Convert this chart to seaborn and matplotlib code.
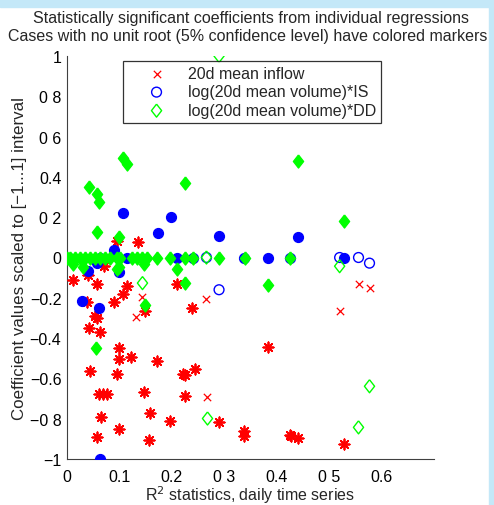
import numpy as np
import pandas as pd
import seaborn as sns
import matplotlib.pyplot as plt
from matplotlib.patches import Rectangle

# ---- data ----
# 20d mean inflow, unit root (thin x)
inflow_x_r2 = [0.144, 0.265, 0.131, 0.267, 0.520, 0.556, 0.577]
inflow_x_val = [-0.196, -0.204, -0.297, -0.692, -0.266, -0.130, -0.150]

# 20d mean inflow, no unit root (asterisk)
inflow_r2 = [0.095, 0.136, 0.012, 0.041, 0.057, 0.071, 0.090, 0.107, 0.115, 0.209,
             0.239, 0.149, 0.038, 0.057, 0.053, 0.042, 0.062, 0.100, 0.100, 0.123,
             0.044, 0.095, 0.061, 0.068, 0.076, 0.064, 0.100, 0.057, 0.147, 0.172,
             0.244, 0.222, 0.226, 0.225, 0.159, 0.196, 0.290, 0.156, 0.383, 0.337,
             0.337, 0.425, 0.428, 0.441, 0.528]
inflow_val = [0.084, 0.076, -0.110, -0.089, -0.130, -0.043, -0.221, -0.183, -0.139, -0.130,
              -0.249, -0.266, -0.223, -0.302, -0.292, -0.351, -0.371, -0.449, -0.505, -0.495,
              -0.564, -0.579, -0.678, -0.678, -0.678, -0.791, -0.851, -0.891, -0.667, -0.513,
              -0.551, -0.579, -0.584, -0.687, -0.774, -0.810, -0.815, -0.906, -0.444, -0.861,
              -0.886, -0.881, -0.886, -0.895, -0.926]

# log(20d mean volume)*IS, unit root (open circle)
is_open_r2 = [0.266, 0.290, 0.520, 0.556, 0.577]
is_open_val = [0.0, -0.160, 0.0, 0.0, -0.028]

# log(20d mean volume)*IS, no unit root (filled circle)
is_r2 = [0.107, 0.198, 0.173, 0.290, 0.441, 0.090, 0.099, 0.041, 0.057, 0.029,
         0.061, 0.062, 0.003, 0.063, 0.114, 0.210, 0.240, 0.337, 0.383, 0.426, 0.528]
is_val = [0.219, 0.200, 0.120, 0.109, 0.104, 0.035, -0.073, -0.068, -0.028, -0.218,
          -0.249, -1.0, 0.0, 0.0, 0.0, 0.0, 0.0, 0.0, 0.0, 0.0, 0.0]

# log(20d mean volume)*DD, unit root (open diamond)
dd_open_r2 = [0.290, 0.144, 0.266, 0.268, 0.520, 0.577, 0.556]
dd_open_val = [1.0, -0.127, 0.0, -0.799, -0.043, -0.639, -0.843]

# log(20d mean volume)*DD, no unit root (filled diamond)
dd_r2 = [0.107, 0.115, 0.042, 0.058, 0.061, 0.225, 0.441, 0.528, 0.057, 0.099,
         0.012, 0.031, 0.095, 0.099, 0.147, 0.209, 0.225, 0.149, 0.055, 0.383,
         0.000, 0.006, 0.015, 0.025, 0.034, 0.044, 0.053, 0.063, 0.072, 0.082,
         0.095, 0.101, 0.124, 0.133, 0.143, 0.152, 0.171, 0.196, 0.225, 0.240,
         0.290, 0.339, 0.426]
dd_val = [0.494, 0.464, 0.348, 0.315, 0.274, 0.370, 0.477, 0.183, 0.125, 0.100,
          -0.031, -0.048, -0.056, -0.048, -0.031, -0.059, -0.125, -0.238, -0.450, -0.134,
          0.0, 0.0, 0.0, 0.0, 0.0, 0.0, 0.0, 0.0, 0.0, 0.0,
          0.0, 0.0, 0.0, 0.0, 0.0, 0.0, 0.0, 0.0, 0.0, 0.0,
          0.0, 0.0, 0.0]

x_ticks = [0, 0.1, 0.2, 0.3, 0.4, 0.5, 0.6]
x_ticklabels = ['0', '0.1', '0.2', '0 3', '0.4', '0 5', '0.6']
y_ticks = [-1, -0.8, -0.6, -0.4, -0.2, 0, 0.2, 0.4, 0.6, 0.8, 1]
y_ticklabels = ['\u22121', '\u22120 8', '\u22120.6', '\u22120.4', '\u22120.2', '0',
                '0 2', '0.4', '0 6', '0 8', '1']

sns.set_style("white")
plt.rcParams['font.family'] = ['Liberation Sans', 'DejaVu Sans']
FS = 11.5

fig = plt.figure(figsize=(4.94, 5.06), dpi=100)
# light blue slide background strips
fig.add_artist(Rectangle((0, 1 - 8 / 506), 1, 8 / 506, transform=fig.transFigure,
                         color='#c4e8f8', zorder=0))
fig.add_artist(Rectangle((1 - 5 / 494, 0), 5 / 494, 1, transform=fig.transFigure,
                         color='#c4e8f8', zorder=0))

ax = fig.add_axes([67 / 494, 46 / 506, 367 / 494, 403 / 506])

red, blue, green = '#ff0000', '#0000ff', '#00ff00'
diamond = [(0, 1), (0.78, 0), (0, -1), (-0.78, 0), (0, 1)]

sns.scatterplot(x=inflow_x_r2, y=inflow_x_val, ax=ax, marker='x', color=red, s=28,
                linewidth=0.9, label='20d mean inflow', zorder=3)
sns.scatterplot(x=inflow_r2, y=inflow_val, ax=ax, marker=(8, 2, 0), color=red, s=55,
                linewidth=1.3, zorder=3)
sns.scatterplot(x=is_open_r2, y=is_open_val, ax=ax, marker='o', facecolor='none',
                edgecolor=blue, s=50, linewidth=1.0, label='log(20d mean volume)*IS', zorder=4)
sns.scatterplot(x=is_r2, y=is_val, ax=ax, marker='o', color=blue, edgecolor=blue,
                s=50, linewidth=1.0, zorder=4)
sns.scatterplot(x=dd_open_r2, y=dd_open_val, ax=ax, marker=diamond, facecolor='none',
                edgecolor=green, s=88, linewidth=1.0, label='log(20d mean volume)*DD', zorder=5)
sns.scatterplot(x=dd_r2, y=dd_val, ax=ax, marker=diamond, color=green, edgecolor=green,
                s=88, linewidth=1.0, zorder=5)

ax.set_xlim(0, 0.7)
ax.set_ylim(-1, 1)
ax.set_xticks(x_ticks)
ax.set_xticklabels(x_ticklabels)
ax.set_yticks(y_ticks)
ax.set_yticklabels(y_ticklabels)
ax.tick_params(direction='in', length=4, width=0.8, colors='#404040',
               labelcolor='black', labelsize=FS)
ax.tick_params(axis='x', pad=7)
ax.tick_params(axis='y', pad=4)
for side in ['top', 'right']:
    ax.spines[side].set_visible(False)
for side in ['left', 'bottom']:
    ax.spines[side].set_color('#404040')
    ax.spines[side].set_linewidth(0.8)
for lab in ax.get_xticklabels() + ax.get_yticklabels():
    lab.set_clip_on(False)

ax.set_xlabel('R$^2$ statistics, daily time series', fontsize=FS, labelpad=0)
ax.set_ylabel('Coefficient values scaled to [\u22121...1] interval', fontsize=12.2, labelpad=2)

fig.text(251 / 494, 1 - 18 / 506, 'Statistically significant coefficients from individual regressions',
         ha='center', va='center', fontsize=FS)
fig.text(248 / 494, 1 - 37 / 506, 'Cases with no unit root (5% confidence level) have colored markers',
         ha='center', va='center', fontsize=FS)

leg = ax.legend(loc='upper left', bbox_to_anchor=(56 / 367, 398 / 403), borderaxespad=0,
                fontsize=FS, frameon=True, fancybox=False, edgecolor='black',
                handlelength=3.6, handletextpad=0.15, labelspacing=0.22, borderpad=0.3)
leg.get_frame().set_linewidth(0.9)
leg.set_zorder(10)

fig.savefig('out.png', dpi=100)
